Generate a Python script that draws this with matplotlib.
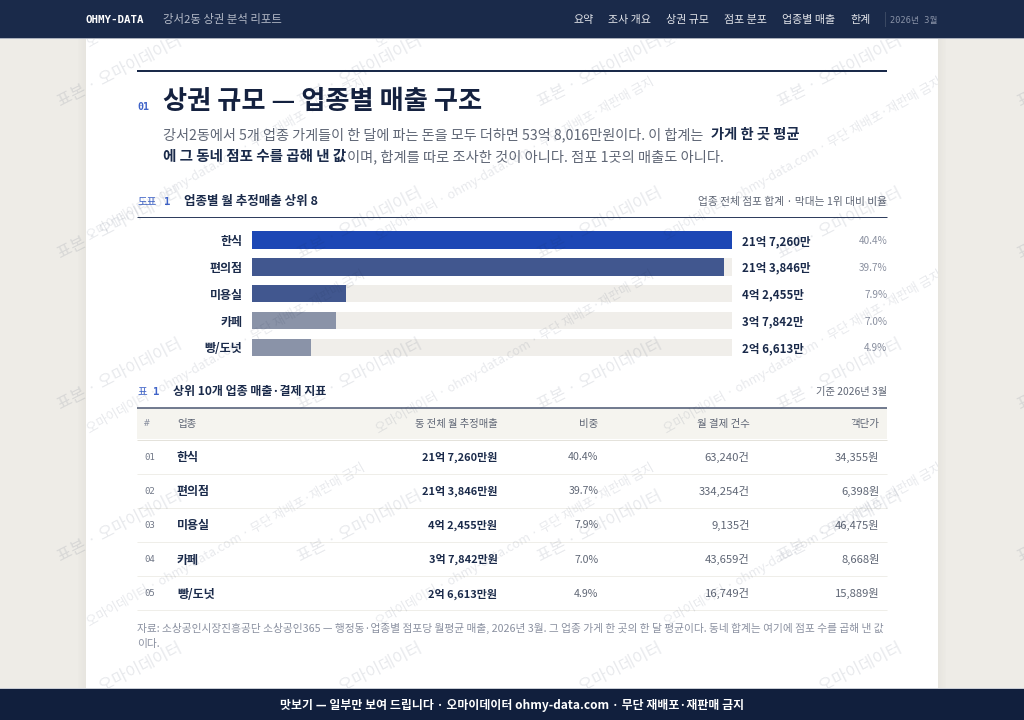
import matplotlib
matplotlib.use('Agg')
import matplotlib.pyplot as plt
from matplotlib.patches import Rectangle

plt.rcParams['font.family'] = ['Noto Sans CJK KR', 'DejaVu Sans']

# 데이터
nav_items = ['요약', '조사 개요', '상권 규모', '점포 분포', '업종별 매출', '한계']
categories = ['한식', '편의점', '미용실', '카페', '빵/도넛']
sales_manwon = [217260, 213846, 42455, 37842, 26613]
sales_labels = ['21억 7,260만', '21억 3,846만', '4억 2,455만', '3억 7,842만', '2억 6,613만']
share_labels = ['40.4%', '39.7%', '7.9%', '7.0%', '4.9%']
row_numbers = ['01', '02', '03', '04', '05']
payment_labels = ['63,240건', '334,254건', '9,135건', '43,659건', '16,749건']
price_labels = ['34,355원', '6,398원', '46,475원', '8,668원', '15,889원']

NAVY = '#1a2a4a'
GRAY = '#5f6675'
LIGHT = '#8a90a0'
BLUE = '#3f63c8'
MONO = ['DejaVu Sans Mono', 'Noto Sans CJK KR']

fig = plt.figure(figsize=(10.24, 7.2), dpi=100, facecolor='#eeece7')

# 픽셀 좌표 배경
bg = fig.add_axes([0, 0, 1, 1], zorder=0)
bg.set_xlim(0, 1024)
bg.set_ylim(720, 0)
bg.axis('off')
for i in range(8):
    bg.add_patch(Rectangle((78 + i, 0), 1, 720, color='#e6e4de', alpha=0.15 + i * 0.1, lw=0))
    bg.add_patch(Rectangle((945 - i, 0), 1, 720, color='#e6e4de', alpha=0.15 + i * 0.1, lw=0))
bg.add_patch(Rectangle((86, 0), 852, 720, color='white', lw=0))

# 막대 그래프
bar_ax = fig.add_axes([252 / 1024, 1 - 360.8 / 720, 480 / 1024, 134.2 / 720], zorder=1)
bar_colors = ['#1c47b5', '#41578f', '#41578f', '#8a93a8', '#8a93a8']
bar_ax.barh(categories, [max(sales_manwon)] * len(categories), height=0.65, color='#f0eeea')
bar_ax.barh(categories, sales_manwon, height=0.65, color=bar_colors)
bar_ax.set_xlim(0, max(sales_manwon))
bar_ax.set_ylim(4.5, -0.5)
bar_ax.axis('off')

# 글자와 선
ax = fig.add_axes([0, 0, 1, 1], zorder=2)
ax.set_xlim(0, 1024)
ax.set_ylim(720, 0)
ax.axis('off')
ax.patch.set_alpha(0)


def put(x, y, s, size, color=NAVY, weight='normal', ha='left', family=None, z=3):
    kw = {'family': family} if family else {}
    return ax.text(x, y, s, fontsize=size * 0.72, color=color, fontweight=weight, ha=ha,
                   va='center_baseline', zorder=z, **kw)


def rule(y, x0=137, x1=887, color=NAVY, lw=1.0):
    ax.plot([x0, x1], [y, y], color=color, lw=lw * 0.72, solid_capstyle='butt', zorder=2)


# 제목 부분
rule(70.5, lw=2)
put(137, 105.5, '01', 10, BLUE, 'bold', family=MONO)
put(163, 98.5, '상권 규모 — 업종별 매출 구조', 26.2, '#14213f', 'bold')
put(163, 133, '강서2동에서 5개 업종 가게들이 한 달에 파는 돈을 모두 더하면 53억 8,016만원이다. 이 합계는', 14.15, GRAY)
put(711, 133, '가게 한 곳 평균', 14.3, NAVY, 'bold')
put(163, 155, '에 그 동네 점포 수를 곱해 낸 값', 14.5, NAVY, 'bold')
put(347, 155, '이며, 합계를 따로 조사한 것이 아니다. 점포 1곳의 매출도 아니다.', 14.25, GRAY)

# 도표 1
put(137, 201, '도표', 10.5, BLUE, family=MONO)
put(164, 201, '1', 10.5, BLUE, 'bold', family=MONO)
put(184, 200.5, '업종별 월 추정매출 상위 8', 12.5, NAVY, 'bold')
put(887, 201, '업종 전체 점포 합계 · 막대는 1위 대비 비율', 10.7, GRAY, ha='right')
rule(216.5, color='#2f3e5e')

for i, cat in enumerate(categories):
    y = 240 + i * 26.84
    put(242.5, y, cat, 12, NAVY, 'bold', ha='right')
    put(742, y, sales_labels[i], 11.5, NAVY, 'bold')
    put(887.5, y, share_labels[i], 10, LIGHT, ha='right')

# 표 1
put(137, 391, '표', 10.5, BLUE, family=MONO)
put(153, 391, '1', 10.5, BLUE, 'bold', family=MONO)
put(173, 390.5, '상위 10개 업종 매출·결제 지표', 12, NAVY, 'bold')
put(887, 391, '기준 2026년 3월', 10.3, GRAY, ha='right')

ax.add_patch(Rectangle((137, 408), 750, 31, color='#f5f4ef', lw=0, zorder=1))
rule(407.5, color='#47536f', lw=1.5)
rule(439.5, color='#e4e2db')
put(144, 423, '#', 9.5, LIGHT, family=MONO)
put(177, 423, '업종', 10.5, GRAY)
put(497.5, 423, '동 전체 월 추정매출', 10.3, GRAY, ha='right')
put(598.5, 423, '비중', 10.5, GRAY, ha='right')
put(749.5, 423, '월 결제 건수', 10.5, GRAY, ha='right')
put(879.5, 423, '객단가', 10.5, GRAY, ha='right')

for i, cat in enumerate(categories):
    y = 456 + i * 34.2
    put(144.5, y, row_numbers[i], 9, '#6f7686', family=MONO)
    put(177, y, cat, 12, NAVY, 'bold')
    put(497.5, y, sales_labels[i] + '원', 11, NAVY, 'bold', ha='right')
    put(598.5, y, share_labels[i], 10.5, GRAY, ha='right')
    put(749.5, y, payment_labels[i], 11.3, GRAY, ha='right')
    put(879.5, y, price_labels[i], 11.2, GRAY, ha='right')
    rule(473.5 + i * 34.2, color='#efeee9')

put(137, 627, '자료: 소상공인시장진흥공단 소상공인365 — 행정동·업종별 점포당 월평균 매출, 2026년 3월. 그 업종 가게 한 곳의 한 달 평균이다. 동네 합계는 여기에 점포 수를 곱해 낸 값', 10.72, LIGHT)
put(137, 643, '이다.', 10.72, LIGHT)

# 워터마크
page_clip = Rectangle((86, 0), 852, 720, transform=ax.transData)
for row in range(5):
    for col in range(5):
        ax.text(61 + col * 240, 107 + row * 151.7, '표본 · 오마이데이터', fontsize=16.5 * 0.72,
                color='#1a2a4a', alpha=0.10, rotation=27, rotation_mode='anchor',
                ha='left', va='baseline', zorder=5)
for row in range(4):
    for col in range(-1, 3):
        t = ax.text(90 + col * 288.5, 47 + row * 193, '오마이데이터 · ohmy-data.com · 무단 재배포·재판매 금지',
                    fontsize=12.6 * 0.72, color='#1a2a4a', alpha=0.10, rotation=29.5,
                    rotation_mode='anchor', ha='left', va='baseline', zorder=5, clip_on=True)
        t.set_clip_path(page_clip)

# 상단 바
ax.add_patch(Rectangle((0, 0), 1024, 38, color=NAVY, lw=0, zorder=10))
ax.add_patch(Rectangle((0, 38), 1024, 1, color='#aab0bc', lw=0, zorder=10))
put(85, 19, 'OHMY-DATA', 10.8, 'white', 'bold', family=MONO, z=11)
put(163, 19, '강서2동 상권 분석 리포트', 11.4, '#b3b9c7', z=11)
nav_x = [574, 608, 666, 724, 782, 850]
for x, item in zip(nav_x, nav_items):
    put(x, 19, item, 11, '#e3e5ea', z=11)
ax.plot([884.5, 884.5], [12, 26], color='#3a4862', lw=0.72, zorder=11)
put(890, 19, '2026년 3월', 8.7, '#8a93a8', family=MONO, z=11)

# 하단 바
ax.add_patch(Rectangle((0, 688), 1024, 1, color='#c8ccd4', lw=0, zorder=10))
ax.add_patch(Rectangle((0, 689), 1024, 31, color='#111f3d', lw=0, zorder=10))
put(512, 704, '맛보기 — 일부만 보여 드립니다 · 오마이데이터 ohmy-data.com · 무단 재배포·재판매 금지', 11.9, 'white', 'bold',
    ha='center', z=11)

fig.savefig('out.png', dpi=100)
